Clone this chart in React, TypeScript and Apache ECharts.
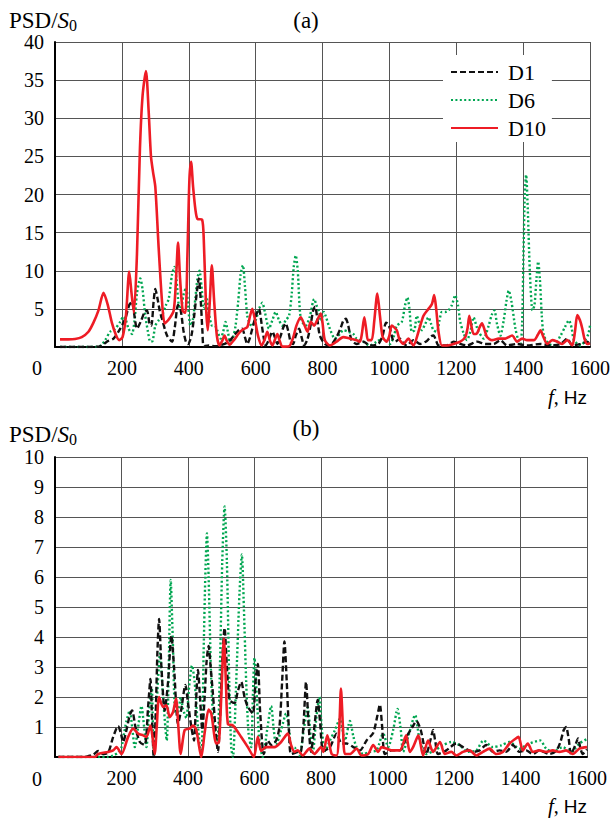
import React, { useEffect, useRef } from "react";
import * as echarts from "echarts";

// ---- Data (frequency Hz, PSD/S0) ----
const xTicks = [0, 200, 400, 600, 800, 1000, 1200, 1400, 1600];

const topD1: number[][] = [[15,0],[100,0],[130,0.05],[140,0.15],[155,0.7],[175,1.1],[195,2.4],[210,3.7],[222,5.5],[230,5.9],[238,4.0],[245,2.4],[258,3.5],[268,4.6],[275,4.8],[283,3.0],[288,2.8],[295,6],[300,7.6],[306,6.5],[313,4.8],[320,3.7],[335,1.5],[350,0.7],[358,2.5],[368,5.5],[376,4.8],[384,2.2],[392,0.6],[398,0.4],[408,1.5],[416,4],[425,7.5],[430,9.0],[436,6.0],[441,2],[445,0.1],[460,0.2],[480,0.1],[500,0.3],[520,0.7],[535,1.5],[545,2.0],[553,2.3],[560,2.4],[568,1.3],[575,0.4],[583,1.2],[590,2.4],[600,4.0],[610,5.0],[618,3.0],[625,1.0],[630,0.2],[640,1.0],[650,2.0],[658,1.2],[665,0.4],[675,1.5],[683,2.6],[690,3.1],[698,2.0],[705,0.6],[712,0.4],[720,1.5],[730,2.4],[738,1.2],[745,0.2],[755,1.0],[765,3.0],[772,4.8],[778,5.3],[785,3.5],[792,1.5],[807,0.4],[822,0.2],[842,1.3],[855,2.6],[863,3.5],[870,3.7],[877,2.8],[887,0.9],[902,0.4],[922,0.7],[942,0.2],[967,0.4],[980,1.5],[990,3.2],[996,3.0],[1002,2.4],[1010,1.0],[1017,0.7],[1032,1.1],[1042,0.5],[1052,0.2],[1072,0.9],[1092,0.4],[1112,0.8],[1125,1.4],[1132,1.5],[1140,0.8],[1147,0.2],[1172,0.2],[1192,0.7],[1212,0.4],[1232,0.2],[1262,0.7],[1287,0.4],[1312,0.4],[1332,0.9],[1352,0.2],[1382,0.4],[1412,0.2],[1452,0.4],[1482,0.2],[1512,0.4],[1532,1.1],[1547,0.2],[1572,0.4],[1592,0.7],[1600,0.3]];

const topD6: number[][] = [[15,0],[60,0],[100,0],[130,0.05],[140,0.3],[150,0.9],[165,2.0],[180,2.4],[195,3.3],[205,4.0],[212,3.5],[220,2.4],[230,1.7],[238,3.5],[245,7],[255,9.0],[262,7.5],[270,4.1],[278,2],[285,0.7],[292,0.8],[300,2.8],[310,3.5],[320,4.1],[332,5.5],[340,6.3],[350,9.5],[357,10.5],[363,9],[370,5.5],[376,5.0],[384,6.8],[392,7.8],[398,5.5],[405,2.8],[412,3.5],[420,6.5],[426,9],[432,10.0],[438,8],[445,5.0],[453,6.5],[460,4.5],[470,2.8],[478,2.8],[485,2.2],[495,1.1],[503,2.0],[510,3.3],[517,2.0],[525,0.4],[533,1.3],[540,2.8],[548,6],[555,9.5],[562,10.7],[568,8],[575,4.1],[583,3.0],[590,2.8],[600,3.5],[612,5.2],[620,5.8],[628,4.5],[640,2.4],[650,3.5],[660,4.6],[670,3.5],[680,2.8],[690,3.5],[700,4.1],[708,7],[714,10.5],[720,12.0],[726,10],[735,3.7],[750,2.8],[762,4.0],[775,6.3],[782,5.5],[790,4.6],[796,3.3],[804,4.6],[810,4.0],[822,2.4],[837,1.1],[852,1.7],[862,2.2],[877,2.0],[892,1.7],[902,1.1],[922,0.7],[942,0.2],[962,0.7],[982,1.1],[1002,0.4],[1014,1.5],[1022,2.8],[1037,3.3],[1047,5.5],[1054,6.5],[1060,5.0],[1067,2.0],[1075,2.2],[1082,4.1],[1090,3.0],[1097,2.2],[1107,3.0],[1117,3.9],[1125,3.0],[1132,2.2],[1142,2.0],[1150,3.5],[1157,4.6],[1167,4.6],[1177,4.8],[1187,5.5],[1197,6.8],[1205,5.5],[1212,3.3],[1222,1.8],[1232,0.9],[1242,2.0],[1252,3.9],[1260,2.8],[1267,2.0],[1282,1.1],[1297,2.8],[1306,4.2],[1314,4.8],[1322,3.0],[1332,1.5],[1342,3.5],[1350,6.0],[1357,7.4],[1365,6.0],[1377,2.4],[1385,1.0],[1392,0.4],[1397,3],[1401,12],[1405,20],[1409,22.6],[1414,18],[1420,10],[1428,4.8],[1434,5.5],[1440,9],[1445,11.2],[1450,9],[1456,4.0],[1462,1.5],[1477,0.4],[1492,0.2],[1512,1.5],[1525,2.6],[1537,3.5],[1545,2.5],[1552,0.9],[1572,0.2],[1587,1.0],[1595,1.7],[1600,2.8]];

const topD10: number[][] = [[15,1.0],[40,1.0],[60,1.05],[80,1.3],[100,2.0],[115,3.2],[130,4.8],[145,7.1],[158,5.5],[170,3.2],[182,1.6],[192,0.9],[202,1.3],[212,4.0],[222,9.9],[229,7.0],[236,4.5],[245,12],[254,26],[262,33],[272,36.2],[280,31],[287,25],[293,23],[300,21],[310,13],[320,6],[328,3.1],[340,3.6],[355,4.8],[362,9],[368,13.7],[374,9],[382,4.7],[390,4.5],[396,12],[402,22],[407,24.3],[413,21],[420,18],[426,16.8],[440,16.7],[445,14],[452,5],[457,2.2],[463,6],[469,10.7],[476,6],[484,1.5],[492,0.2],[500,0.8],[507,1.5],[514,0.8],[522,0.3],[535,0.9],[550,1.8],[562,2.3],[575,2.6],[583,4],[590,5.0],[598,3.6],[607,1.5],[618,0.2],[627,1.0],[635,2.0],[643,0.8],[650,0.2],[658,1.0],[665,1.7],[672,0.8],[680,0.05],[700,0.1],[712,1.2],[722,2.8],[735,3.9],[745,3.0],[755,2.0],[765,3.3],[775,2.8],[785,3.6],[795,4.4],[800,3.2],[807,0.9],[822,0.2],[842,0.7],[862,1.3],[882,1.1],[902,0.9],[912,0.7],[918,1.8],[925,3.9],[931,2.2],[936,0.9],[947,0.9],[955,3.5],[964,7.0],[972,4.0],[980,1.3],[992,0.7],[1000,1.5],[1007,2.8],[1022,2.2],[1030,1.0],[1042,0.4],[1057,1.1],[1065,0.6],[1072,0.2],[1087,2.0],[1102,4.1],[1117,5.0],[1127,5.6],[1134,6.8],[1140,5.0],[1147,2.0],[1157,0.2],[1172,0.2],[1192,0.4],[1212,0.7],[1227,1.3],[1234,2.5],[1239,4.1],[1245,2.8],[1252,1.7],[1262,1.8],[1270,2.6],[1277,3.1],[1285,2.2],[1292,1.3],[1307,0.9],[1327,1.1],[1347,1.1],[1367,1.5],[1382,0.7],[1397,1.1],[1412,0.9],[1432,0.9],[1444,1.6],[1452,2.2],[1460,1.4],[1472,0.4],[1487,0.9],[1502,0.7],[1517,0.4],[1532,0.9],[1547,0.2],[1555,2.0],[1562,4.2],[1570,3.5],[1577,2.4],[1584,1.0],[1592,0.4],[1600,0.5]];

const botD1: number[][] = [[10,0],[90,0],[100,0.03],[115,0.08],[130,0.2],[145,0.1],[160,0.15],[175,0.67],[190,1.03],[198,0.8],[205,0.5],[215,0.9],[225,1.4],[232,1.55],[242,1.0],[255,0.5],[270,0.4],[280,1.67],[287,2.6],[292,1.2],[297,0.0],[303,1.5],[308,3.5],[313,4.6],[320,3.0],[330,1.55],[340,2.5],[350,4.05],[358,3.0],[370,1.1],[380,1.6],[392,2.4],[400,1.8],[410,1.0],[418,0.55],[424,1.8],[430,2.9],[436,2.0],[443,0.9],[450,2.0],[456,3.2],[462,3.7],[468,3.0],[475,2.1],[483,0.9],[490,0.17],[497,1.5],[503,3.2],[510,4.3],[517,3.0],[525,1.9],[540,1.8],[550,2.2],[560,2.5],[570,2.0],[580,1.67],[595,1.45],[603,2.5],[610,3.1],[617,1.5],[628,0.1],[640,0.55],[650,0.4],[665,0.55],[675,1.0],[683,2.5],[690,3.85],[697,2.5],[704,0.8],[710,0.1],[730,0.17],[740,0.2],[748,1.2],[755,2.5],[762,1.2],[770,0.17],[780,1.0],[790,1.9],[797,1.2],[807,0.2],[827,0.33],[847,0.78],[862,0.45],[877,0.45],[897,0.33],[917,0.22],[937,0.55],[957,0.8],[970,1.4],[977,1.75],[984,1.0],[992,0.1],[1012,0.22],[1037,0.22],[1057,0.67],[1075,1.0],[1087,1.2],[1100,0.9],[1117,0.1],[1130,0.6],[1137,0.9],[1144,0.5],[1152,0.1],[1177,0.22],[1207,0.45],[1227,0.33],[1257,0.17],[1277,0.22],[1297,0.4],[1317,0.17],[1337,0.22],[1357,0.17],[1377,0.4],[1397,0.17],[1417,0.22],[1437,0.1],[1457,0.22],[1487,0.1],[1507,0.2],[1520,0.5],[1530,0.9],[1537,1.0],[1545,0.6],[1552,0.1],[1565,0.4],[1573,0.62],[1580,0.3],[1587,0.1],[1600,0.25]];

const botD6: number[][] = [[10,0],[160,0],[175,0.05],[190,0.15],[200,0.33],[208,0.8],[215,1.2],[225,1.55],[232,1.0],[240,0.33],[250,1.0],[260,1.7],[268,1.0],[275,0.33],[283,1.5],[291,2.3],[297,0.06],[306,1.8],[316,3.45],[325,2.0],[336,0.55],[342,3],[348,5.9],[354,4],[362,1.5],[370,1.5],[378,2.0],[385,1.6],[395,1.3],[403,2.3],[412,3.05],[420,2.5],[430,1.0],[440,0.0],[447,3.5],[452,6],[457,7.45],[462,6],[470,2.5],[478,1.0],[488,0.5],[496,3.0],[503,6.5],[510,8.35],[517,6.5],[524,2.5],[530,0.3],[535,0.0],[545,2.5],[555,5.5],[562,6.75],[568,5.0],[575,2.5],[582,0.8],[590,0.33],[595,2.0],[600,3.3],[607,2.0],[615,0.5],[625,0.0],[638,0.9],[650,1.7],[658,0.9],[665,0.4],[680,0.9],[695,1.45],[705,0.8],[710,0.33],[722,0.3],[735,0.05],[748,0.9],[760,1.65],[768,0.8],[775,0.1],[785,1.2],[795,2.0],[802,1.0],[812,0.2],[827,0.55],[842,0.9],[857,1.28],[872,0.55],[887,1.2],[897,0.7],[907,0.33],[927,0.1],[947,0.17],[967,0.22],[987,0.78],[1002,0.33],[1017,0.9],[1030,1.6],[1040,0.9],[1047,0.17],[1062,0.67],[1083,1.4],[1097,0.55],[1117,0.1],[1142,0.22],[1167,0.39],[1192,0.5],[1217,0.39],[1242,0.17],[1267,0.22],[1289,0.55],[1317,0.33],[1342,0.39],[1367,0.5],[1397,0.28],[1427,0.45],[1459,0.55],[1477,0.28],[1497,0.17],[1527,0.33],[1552,0.17],[1577,0.45],[1600,0.6]];

const botD10: number[][] = [[10,0],[120,0],[130,0.1],[160,0.17],[175,0.22],[185,0.33],[200,0.1],[220,0.67],[235,0.95],[250,0.78],[265,0.72],[275,0.67],[287,1.05],[294,0.6],[300,0.1],[306,1.0],[313,2.0],[325,1.67],[335,1.72],[345,1.33],[355,1.5],[364,1.95],[371,1.0],[378,0.1],[390,0.9],[405,0.95],[415,1.05],[425,0.9],[440,0.0],[450,0.8],[462,1.58],[470,1.45],[485,0.45],[493,0.5],[500,2.0],[508,3.95],[514,2.5],[520,1.1],[535,1.05],[560,0.67],[580,0.33],[598,0.0],[610,0.67],[620,0.2],[635,0.33],[660,0.33],[680,0.5],[700,0.78],[710,0.4],[720,0.17],[730,0.22],[745,0.05],[765,0.28],[780,0.1],[800,0.33],[807,0.17],[819,0.72],[832,0.1],[847,0.05],[855,1.0],[860,2.28],[866,1.0],[872,0.1],[887,0.1],[907,0.28],[922,0.05],[942,0.1],[957,0.4],[972,0.17],[982,0.33],[997,0.28],[1012,0.22],[1037,0.22],[1056,0.72],[1067,0.17],[1077,0.33],[1093,0.72],[1107,0.05],[1122,0.55],[1137,0.17],[1158,0.5],[1172,0.1],[1192,0.17],[1207,0.05],[1227,0.17],[1247,0.22],[1267,0.05],[1287,0.17],[1307,0.28],[1327,0.1],[1347,0.17],[1367,0.45],[1384,0.6],[1394,0.67],[1407,0.22],[1422,0.45],[1437,0.17],[1457,0.22],[1477,0.17],[1497,0.22],[1517,0.17],[1537,0.22],[1557,0.1],[1577,0.28],[1600,0.33]];

const legendNames = ["D1", "D6", "D10"];
const colors = { D1: "#111111", D6: "#00a651", D10: "#ee1c25" };

const SERIF = "'Liberation Serif', 'DejaVu Serif', serif";
const SANS = "'Liberation Sans', Arial, sans-serif";

export default function App() {
  const ref = useRef<HTMLDivElement>(null);
  useEffect(() => {
    if (!ref.current) return;
    const chart = echarts.init(ref.current, null, { renderer: "svg" });
    const gridLine = { show: true, lineStyle: { color: "#555", width: 1 } };
    const axisLabelX = {
      fontFamily: SERIF, fontSize: 20, color: "#000", margin: 11,
      formatter: (v: number) => (v === 0 ? "" : String(v)),
    };
    const axisLabelY = {
      fontFamily: SERIF, fontSize: 20, color: "#000", margin: 11,
      formatter: (v: number) => (v === 0 ? "" : String(v)),
    };
    const xAx = (gi: number) => ({
      type: "value", gridIndex: gi, min: xTicks[0], max: xTicks[xTicks.length - 1], interval: 200,
      axisLine: { show: true, onZero: false, lineStyle: { color: "#000", width: 2 } },
      axisTick: { show: false }, splitLine: gridLine, axisLabel: axisLabelX,
    });
    const yAx = (gi: number, max: number, interval: number) => ({
      type: "value", gridIndex: gi, min: 0, max, interval,
      axisLine: { show: true, lineStyle: { color: "#000", width: 2 } },
      axisTick: { show: false }, splitLine: gridLine, axisLabel: axisLabelY,
    });
    const mk = (name: string, data: number[][], gi: number) => {
      const c = (colors as any)[name];
      const type = name === "D1" ? [6, 3] : name === "D6" ? [2, 2.4] : "solid";
      return {
        name, type: "line", xAxisIndex: gi, yAxisIndex: gi, data, symbol: "none",
        smooth: 0.25, z: name === "D10" ? 4 : name === "D1" ? 3 : 2,
        lineStyle: { color: c, width: name === "D10" ? 2.6 : 2.4, type, cap: "butt" },
        itemStyle: { color: c },
      };
    };
    const textRich = {
      n: { fontFamily: SERIF, fontSize: 20, color: "#000", lineHeight: 26, verticalAlign: "middle" },
      b: { fontFamily: SERIF, fontSize: 23, color: "#000", lineHeight: 26, verticalAlign: "middle" },
      i: { fontFamily: SERIF, fontSize: 23, fontStyle: "italic", color: "#000", lineHeight: 26, verticalAlign: "middle" },
      fi: { fontFamily: SERIF, fontSize: 21, fontStyle: "italic", color: "#000", lineHeight: 26, verticalAlign: "middle" },
      s: { fontFamily: SERIF, fontSize: 16, color: "#000", lineHeight: 14, verticalAlign: "bottom" },
      h: { fontFamily: SANS, fontSize: 19, color: "#000", lineHeight: 26, verticalAlign: "middle" },
    };
    const txt = (x: number, y: number, text: string, align = "left") => ({
      type: "text", x, y,
      style: { text, rich: textRich, align, verticalAlign: "middle", fill: "#000" },
    });
    const option: any = {
      animation: false,
      backgroundColor: "#fff",
      textStyle: { fontFamily: SERIF },
      grid: [
        { left: 55, top: 42, width: 535, height: 305, containLabel: false },
        { left: 55, top: 457, width: 532, height: 300, containLabel: false },
      ],
      xAxis: [xAx(0), xAx(1)],
      yAxis: [yAx(0, 40, 5), yAx(1, 10, 1)],
      legend: {
        data: legendNames, orient: "vertical", left: 443, top: 55,
        itemWidth: 47, itemHeight: 14, itemGap: 6, padding: [6, 6, 3, 7],
        backgroundColor: "#fff", selectedMode: false,
        itemStyle: { opacity: 0 },
        textStyle: { fontFamily: SERIF, fontSize: 22, color: "#000", padding: [0, 0, 0, 5] },
      },
      series: [
        mk("D6", topD6, 0), mk("D1", topD1, 0), mk("D10", topD10, 0),
        mk("D6", botD6, 1), mk("D1", botD1, 1), mk("D10", botD10, 1),
      ],
      graphic: [
        txt(9, 20, "{b|PSD/}{i|S}{s|0}"),
        txt(306, 20, "{b|(a)}", "center"),
        txt(37, 368, "{n|0}", "center"),
        txt(587, 397, "{fi|f}{n|, }{h|Hz}", "right"),
        txt(9, 434, "{b|PSD/}{i|S}{s|0}"),
        txt(306, 428, "{b|(b)}", "center"),
        txt(37, 779, "{n|0}", "center"),
        txt(587, 806, "{fi|f}{n|, }{h|Hz}", "right"),
      ],
    };
    chart.setOption(option);
    return () => chart.dispose();
  }, []);
  return (
    <div
      ref={ref}
      style={{ position: "absolute", left: 0, top: 0, width: 613, height: 818, background: "#fff" }}
    />
  );
}
